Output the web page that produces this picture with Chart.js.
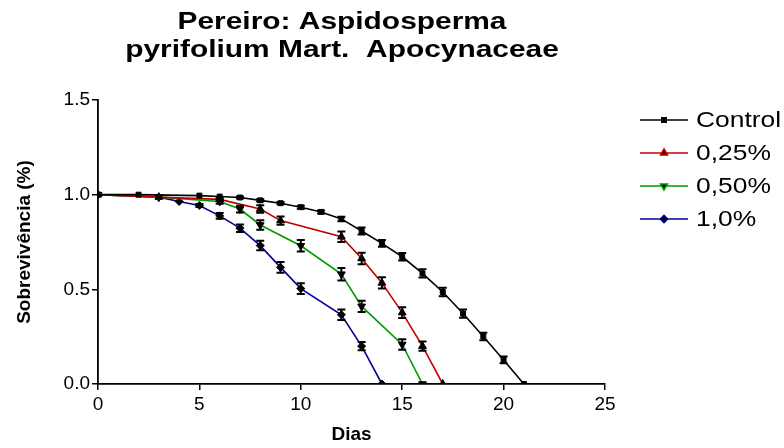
<!DOCTYPE html>
<html>
<head>
<meta charset="utf-8">
<script src="https://cdn.jsdelivr.net/npm/chart.js@4.4.0/dist/chart.umd.min.js"></script>
<style>
  html, body { margin: 0; padding: 0; background: #fff; }
  #wrap { width: 784px; height: 448px; }
</style>
</head>
<body>
<div id="wrap"><canvas id="myChart" width="784" height="448"></canvas></div>
<script>
const titleLines = ['Pereiro: Aspidosperma', 'pyrifolium Mart.  Apocynaceae'];
const seriesNames = ['Control', '0,25%', '0,50%', '1,0%'];

const controlDays = [0, 2, 5, 6, 7, 8, 9, 10, 11, 12, 13, 14, 15, 16, 17, 18, 19, 20, 21];
const controlValues = [1.0, 1.0, 0.995, 0.99, 0.985, 0.97, 0.955, 0.934, 0.909, 0.872, 0.808, 0.743, 0.672, 0.584, 0.486, 0.372, 0.251, 0.127, 0.0];
const controlErrors = [0, 0, 0, 0, 0.005, 0.006, 0.006, 0.008, 0.008, 0.012, 0.018, 0.018, 0.02, 0.022, 0.022, 0.022, 0.02, 0.018, 0];

const d025Days = [0, 3, 6, 8, 9, 12, 13, 14, 15, 16, 17];
const d025Values = [1.0, 0.987, 0.975, 0.924, 0.863, 0.778, 0.663, 0.534, 0.377, 0.2, 0.0];
const d025Errors = [0, 0, 0.01, 0.02, 0.022, 0.028, 0.03, 0.03, 0.028, 0.025, 0];

const d050Days = [0, 3, 6, 7, 8, 10, 12, 13, 15, 16];
const d050Values = [1.0, 0.987, 0.964, 0.924, 0.84, 0.73, 0.58, 0.41, 0.209, 0.0];
const d050Errors = [0, 0, 0.012, 0.018, 0.025, 0.03, 0.033, 0.03, 0.028, 0];

const d100Days = [0, 3, 4, 5, 6, 7, 8, 9, 10, 12, 13, 14];
const d100Values = [1.0, 0.987, 0.964, 0.943, 0.888, 0.823, 0.731, 0.616, 0.504, 0.366, 0.2, 0.0];
const d100Errors = [0, 0, 0, 0.008, 0.015, 0.02, 0.025, 0.028, 0.028, 0.028, 0.022, 0];

const xTicks = [0, 5, 10, 15, 20, 25];
const yTicks = [0, 0.5, 1.0, 1.5];

const lineColors = ['#000000', '#c00000', '#009a00', '#000099'];
const markers = [
  { style: 'rect', radius: 3.5, rotation: 0 },
  { style: 'triangle', radius: 4.5, rotation: 0 },
  { style: 'triangle', radius: 4.5, rotation: 180 },
  { style: 'rectRot', radius: 4, rotation: 0 }
];

function toPoints(days, values) {
  return days.map((d, i) => ({ x: d, y: values[i] }));
}

const allDays = [controlDays, d025Days, d050Days, d100Days];
const allValues = [controlValues, d025Values, d050Values, d100Values];
const allErrors = [controlErrors, d025Errors, d050Errors, d100Errors];

const fontFam = '"Liberation Sans", Arial, sans-serif';

const datasets = seriesNames.map((name, i) => ({
  label: name,
  data: toPoints(allDays[i], allValues[i]),
  errors: allErrors[i],
  borderColor: lineColors[i],
  borderWidth: 1.6,
  pointStyle: markers[i].style,
  pointRadius: markers[i].radius,
  pointRotation: markers[i].rotation,
  pointBackgroundColor: '#000',
  pointBorderColor: '#000',
  pointBorderWidth: 1,
  tension: 0,
  fill: false
}));

// text drawn a bit wider than the font, the original export is stretched
function wideText(ctx, text, x, y, sx, align) {
  ctx.save();
  ctx.translate(x, y);
  ctx.scale(sx, 1);
  ctx.textAlign = align;
  ctx.fillText(text, 0, 0);
  ctx.restore();
}

const errorBars = {
  id: 'errorBars',
  afterDatasetsDraw(chart) {
    const ctx = chart.ctx;
    const xs = chart.scales.x, ys = chart.scales.y;
    ctx.save();
    ctx.strokeStyle = '#000';
    ctx.lineWidth = 2;
    chart.data.datasets.forEach(ds => {
      ds.data.forEach((p, i) => {
        const e = ds.errors[i];
        if (!e) return;
        const px = xs.getPixelForValue(p.x);
        const top = ys.getPixelForValue(p.y + e);
        const bot = ys.getPixelForValue(p.y - e);
        ctx.beginPath();
        ctx.moveTo(px, top); ctx.lineTo(px, bot);
        ctx.moveTo(px - 4, top); ctx.lineTo(px + 4, top);
        ctx.moveTo(px - 4, bot); ctx.lineTo(px + 4, bot);
        ctx.stroke();
      });
    });
    ctx.restore();
  }
};

const titleAndLegend = {
  id: 'titleAndLegend',
  afterDraw(chart) {
    const ctx = chart.ctx;
    ctx.save();
    ctx.fillStyle = '#000';
    ctx.textBaseline = 'middle';
    ctx.font = 'bold 23px ' + fontFam;
    wideText(ctx, titleLines[0], 342, 23, 1.3, 'center');
    wideText(ctx, titleLines[1], 342, 51, 1.3, 'center');

    const rowY = [120, 153, 186, 219];
    ctx.font = '22px ' + fontFam;
    chart.data.datasets.forEach((ds, i) => {
      const y = rowY[i];
      ctx.strokeStyle = ds.borderColor;
      ctx.lineWidth = 1.6;
      ctx.beginPath();
      ctx.moveTo(640, y); ctx.lineTo(688, y);
      ctx.stroke();
      Chart.helpers.drawPoint(ctx, {
        pointStyle: ds.pointStyle, radius: ds.pointRadius - 0.5,
        rotation: ds.pointRotation, borderWidth: 1
      }, 664, y);
      ctx.fillStyle = '#000';
      wideText(ctx, ds.label, 696, y + 1, 1.2, 'left');
    });
    ctx.restore();
  }
};

new Chart(document.getElementById('myChart'), {
  type: 'line',
  data: { datasets: datasets },
  options: {
    responsive: false,
    animation: false,
    layout: { padding: { top: 100, right: 179, left: 0, bottom: 0 } },
    plugins: {
      legend: { display: false },
      title: { display: false },
      tooltip: { enabled: false }
    },
    scales: {
      x: {
        type: 'linear',
        min: 0, max: 25,
        afterBuildTicks(s) { s.ticks = xTicks.map(v => ({ value: v })); },
        afterFit(s) { s.height = 64; },
        ticks: { color: '#000', font: { family: fontFam, size: 19 }, padding: 3, maxRotation: 0 },
        grid: { drawOnChartArea: false, color: '#000', lineWidth: 1.5, tickLength: 6 },
        border: { color: '#000', width: 1.8 },
        title: { display: true, text: 'Dias', color: '#000', font: { family: fontFam, size: 19, weight: 'bold' }, padding: { top: 0, bottom: 2 } }
      },
      y: {
        min: 0, max: 1.5,
        afterBuildTicks(s) { s.ticks = yTicks.map(v => ({ value: v })); },
        afterFit(s) { s.width = 98; },
        ticks: { color: '#000', font: { family: fontFam, size: 19 }, padding: 2, callback: v => v.toFixed(1) },
        grid: { drawOnChartArea: false, color: '#000', lineWidth: 1.5, tickLength: 6 },
        border: { color: '#000', width: 1.8 },
        title: { display: true, text: 'Sobrevivência (%)', color: '#000', font: { family: fontFam, size: 19, weight: 'bold' }, padding: { top: 13, bottom: 0 } }
      }
    }
  },
  plugins: [errorBars, titleAndLegend]
});
</script>
</body>
</html>
